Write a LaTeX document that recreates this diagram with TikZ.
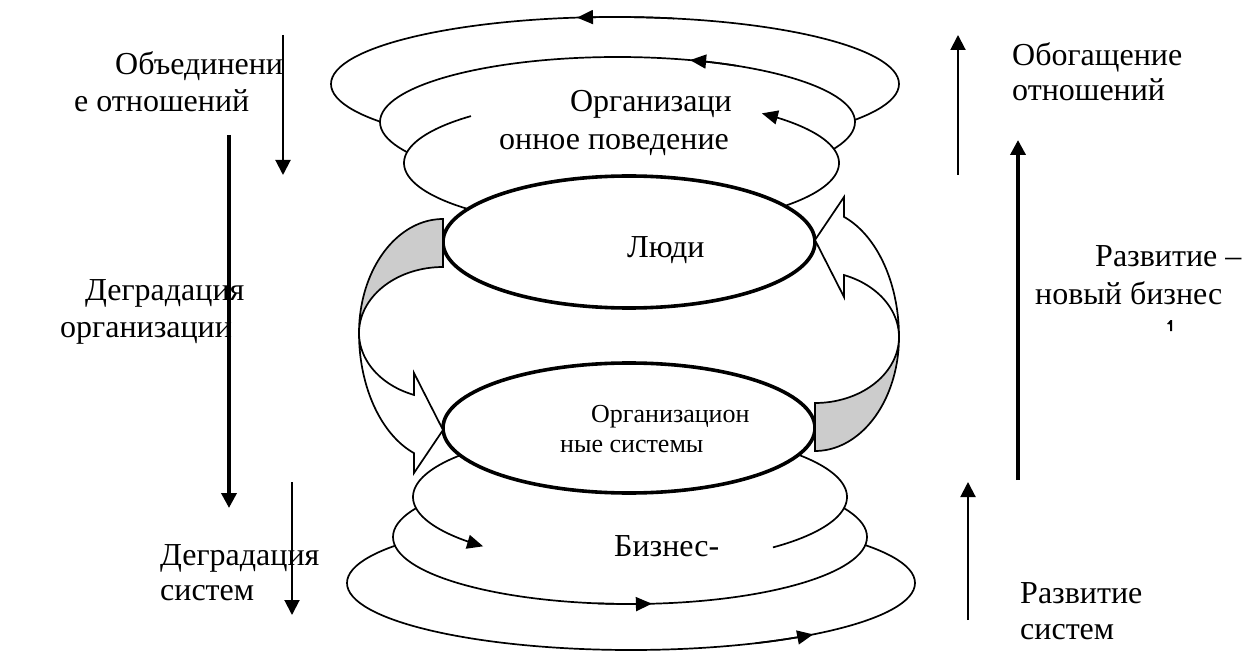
\documentclass[tikz,border=0pt]{standalone}
\usepackage{fontspec}
\setmainfont{Liberation Serif}
\usetikzlibrary{arrows.meta}
\begin{document}
\begin{tikzpicture}[x=1pt,y=-1pt,
  thinline/.style={line width=1.7pt},
  boldline/.style={line width=3.6pt},
  ringtip/.style={-{Triangle[length=16pt,width=14pt]}},
  vtip/.style={-{Triangle[length=15pt,width=15pt]}},
  thinarrow/.style={line width=2pt, vtip},
  thickarrow/.style={line width=3.6pt, vtip},
  lbl/.style={anchor=base west, inner sep=0pt, font=\fontsize{32}{37}\selectfont},
  lble/.style={anchor=base east, inner sep=0pt, font=\fontsize{32}{37}\selectfont},
  lblsmall/.style={anchor=base west, inner sep=0pt, font=\fontsize{26}{30}\selectfont},
  backside/.style={fill=black!20}]
\useasboundingbox (0,0) rectangle (1247,652);

% ---- upper rings (organisational behaviour)
\draw[thinline, fill=white] (615,84) ellipse [x radius=284pt, y radius=67pt];
\draw[thinline, ringtip] plot[variable=\t, domain=282:262.3, samples=25] ({615+284*cos(\t)},{84+67*sin(\t)});
\draw[thinline, fill=white] (617.5,122) ellipse [x radius=237.5pt, y radius=65pt];
\draw[thinline, ringtip] plot[variable=\t, domain=300:287.8, samples=25] ({617.5+237.5*cos(\t)},{122+65*sin(\t)});
\fill[white] (621.5,163) ellipse [x radius=217.5pt, y radius=65pt];
\draw[thinline, ringtip] plot[variable=\t, domain=226.2:-49.8, samples=150] ({621.5+217.5*cos(\t)},{163+65*sin(\t)});

% ---- lower rings (business)
\draw[thinline, fill=white] (631,583) ellipse [x radius=284pt, y radius=67pt];
\draw[thinline, ringtip] plot[variable=\t, domain=64:50.1, samples=25] ({631+284*cos(\t)},{583+67*sin(\t)});
\draw[thinline, fill=white] (630,537) ellipse [x radius=237pt, y radius=67pt];
\draw[thinline, ringtip] plot[variable=\t, domain=98:84.7, samples=25] ({630+237*cos(\t)},{537+67*sin(\t)});
\fill[white] (630,497) ellipse [x radius=217pt, y radius=67pt];
\draw[thinline, ringtip] plot[variable=\t, domain=48.8:-227.4, samples=150] ({630+217*cos(\t)},{497+67*sin(\t)});

% ---- central ellipses
\draw[boldline, fill=white] (629,242) ellipse [x radius=186pt, y radius=66pt];
\draw[boldline, fill=white] (629,428) ellipse [x radius=186pt, y radius=65pt];

% ---- curved band arrows (left one, and its point reflection on the right)
\foreach \ang in {0,180}{
  \begin{scope}[rotate around={\ang:(629,335)}]
    \path[fill=white] plot[variable=\t, domain=270:180, samples=40] ({443+84*cos(\t)},{333+114*sin(\t)})
      -- plot[variable=\t, domain=180:110.2, samples=40] ({443+84*cos(\t)},{333+128*sin(\t)})
      -- (414,473) -- (443,430) -- (414,373)
      -- plot[variable=\t, domain=110.2:270, samples=60] ({443+84*cos(\t)},{333+66*sin(\t)}) -- cycle;
    \path[backside] plot[variable=\t, domain=270:180, samples=40] ({443+84*cos(\t)},{333+114*sin(\t)})
      -- plot[variable=\t, domain=180:270, samples=40] ({443+84*cos(\t)},{333+66*sin(\t)}) -- cycle;
    \draw[thinline, line join=miter] plot[variable=\t, domain=270:180, samples=40] ({443+84*cos(\t)},{333+114*sin(\t)})
      -- plot[variable=\t, domain=180:110.2, samples=40] ({443+84*cos(\t)},{333+128*sin(\t)})
      -- (414,473) -- (443,430) -- (414,373)
      -- plot[variable=\t, domain=110.2:270, samples=60] ({443+84*cos(\t)},{333+66*sin(\t)}) -- cycle;
  \end{scope}
}

% ---- labels inside the rings
\node[lble] (behav1) at (732,112) {Организаци};
\node[lble] (behav2) at (729,150) {онное поведение};
\node[lbl] (people) at (627,258) {Люди};
\node[lblsmall] (orgsys1) at (591,422) {Организацион};
\node[lblsmall] (orgsys2) at (560,452) {ные системы};
\node[lbl] (business) at (614,556) {Бизнес-};

% ---- side labels
\node[lbl] (unite1) at (115,75) {Объединени};
\node[lbl] (unite2) at (74,112) {е отношений};
\node[lbl] (degorg1) at (85,300) {Деградация};
\node[lbl] (degorg2) at (60,337) {организации};
\node[lbl] (degsys1) at (160,565) {Деградация};
\node[lbl] (degsys2) at (160,600) {систем};
\node[lbl] (enrich1) at (1012,66) {Обогащение};
\node[lbl] (enrich2) at (1012,101) {отношений};
\node[lbl] (newbiz1) at (1095,267) {Развитие –};
\node[lbl] (newbiz2) at (1035,305) {новый бизнес};
\node[lbl] (devsys1) at (1020,603) {Развитие};
\node[lbl] (devsys2) at (1020,639) {систем};
\fill (1167,324) -- (1170.5,320) -- (1172,320) -- (1172,331) -- (1170,331) -- (1170,324.5) -- cycle;

% ---- vertical trend arrows
\coordinate (u1) at (283,35);   \coordinate (u2) at (283,175);
\coordinate (d1) at (229,135);  \coordinate (d2) at (229,508);
\coordinate (s1) at (292,482);  \coordinate (s2) at (292,615);
\coordinate (e1) at (958,175);  \coordinate (e2) at (958,35);
\coordinate (n1) at (1018,480); \coordinate (n2) at (1018,140);
\coordinate (v1) at (968,620);  \coordinate (v2) at (968,482);
\draw[thinarrow] (u1) -- (u2);
\draw[thickarrow] (d1) -- (d2);
\draw[thinarrow] (s1) -- (s2);
\draw[thinarrow] (e1) -- (e2);
\draw[thickarrow] (n1) -- (n2);
\draw[thinarrow] (v1) -- (v2);
\end{tikzpicture}
\end{document}
